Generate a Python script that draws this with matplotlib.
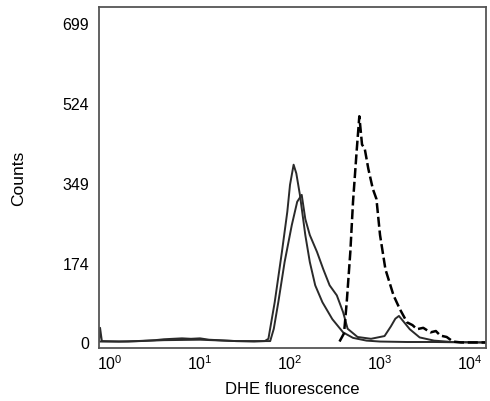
import numpy as np
import matplotlib
matplotlib.use("Agg")
import matplotlib.pyplot as plt

plt.rcParams['font.family'] = ['Liberation Sans', 'DejaVu Sans']

# log10 of DHE fluorescence channel
log_a = [-0.12, -0.11, -0.09, 0.1, 0.3, 0.5, 0.6, 0.7, 0.8, 0.9, 1.0, 1.1, 1.2,
         1.4, 1.6, 1.72, 1.76, 1.83, 1.91, 1.97, 2.0, 2.04, 2.07, 2.11, 2.17,
         2.22, 2.28, 2.36, 2.47, 2.59, 2.7, 2.85, 3.0, 3.3, 3.6, 4.0, 4.18]
counts_a = [5, 32, 3, 2, 3, 5, 7, 8, 9, 8, 9, 6, 5,
            3, 2, 3, 8, 88, 198, 286, 345, 389, 370, 323, 235,
            176, 125, 88, 51, 22, 10, 4, 2, 1, 1, 0, 0]

log_b = [-0.12, 0.2, 0.6, 1.0, 1.4, 1.78, 1.82, 1.87, 1.94, 2.02, 2.08, 2.13,
         2.17, 2.22, 2.3, 2.37, 2.44, 2.52, 2.59, 2.64, 2.75, 2.9, 3.05, 3.12,
         3.17, 3.21, 3.26, 3.33, 3.44, 3.6, 3.8, 4.18]
counts_b = [2, 2, 5, 6, 3, 3, 30, 88, 176, 257, 308, 323,
            270, 235, 198, 160, 125, 103, 66, 30, 12, 8, 14, 35,
            52, 58, 46, 29, 11, 4, 1, 0]

log_c = [2.55, 2.6, 2.63, 2.67, 2.70, 2.74, 2.77,
         2.80, 2.83, 2.87, 2.92, 2.96, 3.0, 3.06, 3.15, 3.22, 3.3, 3.36, 3.41,
         3.48, 3.56, 3.62, 3.67, 3.74, 3.81, 3.9, 4.18]
counts_c = [2, 20, 88, 198, 308, 418, 495,
            433, 424, 380, 336, 314, 235, 160, 103, 73, 44, 38, 29,
            32, 22, 25, 15, 12, 2, 0, 0]

y_ticks = [0, 174, 349, 524, 699]

fig = plt.figure(figsize=(4.9, 4.02), dpi=100)
ax = fig.add_axes([0.202, 0.132, 0.79, 0.848])

ax.plot(10 ** np.array(log_a), counts_a, color='#2a2a2a', lw=1.4)
ax.plot(10 ** np.array(log_b), counts_b, color='#2a2a2a', lw=1.4)
ax.plot(10 ** np.array(log_c), counts_c, color='black', lw=1.8, dashes=(4, 1.5))

ax.set_xscale('log')
ax.set_xlim(10 ** -0.122, 10 ** 4.178)
ax.set_ylim(-12, 734)
ax.set_xticks([1, 10, 100, 1000, 10000])
ax.set_yticks(y_ticks)
ax.set_yticklabels([str(v) for v in y_ticks])
ax.minorticks_off()
ax.tick_params(length=0, labelsize=11.5, pad=7)
ax.tick_params(axis='x', pad=4)

for s in ax.spines.values():
    s.set_color('#555555')
    s.set_linewidth(1.3)

ax.set_xlabel("DHE fluorescence", fontsize=12, labelpad=6)
ax.set_ylabel("Counts", fontsize=12.5, labelpad=26)

fig.savefig("out.png", dpi=100)
